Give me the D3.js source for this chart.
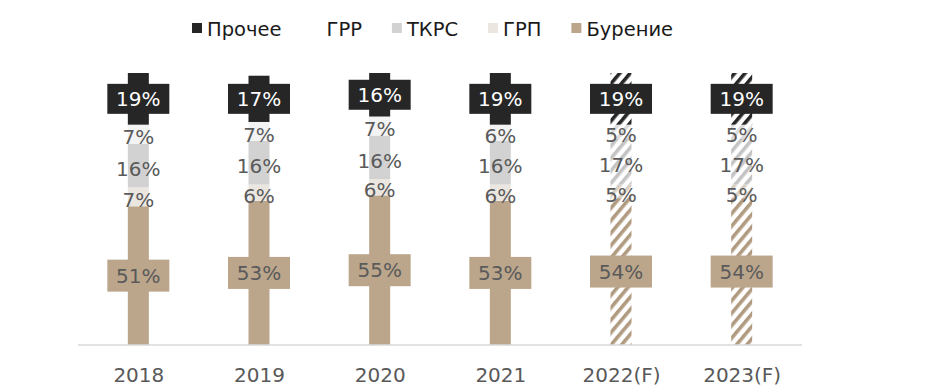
<!DOCTYPE html>
<html>
<head>
<meta charset="utf-8">
<script src="https://cdn.jsdelivr.net/npm/d3@7/dist/d3.min.js"></script>
<style>
  html, body { margin: 0; padding: 0; background: #fff; }
  svg { display: block; font-family: "DejaVu Sans", Verdana, sans-serif; }
</style>
</head>
<body>
<svg id="chart" width="938" height="392"></svg>
<script>
// data, bottom of the stack first
const years = ['2018', '2019', '2020', '2021', '2022(F)', '2023(F)'];
const forecast = ['2022(F)', '2023(F)'];
const seriesNames = ['Бурение', 'ГРП', 'ТКРС', 'ГРР', 'Прочее'];
const drilling = [51, 53, 55, 53, 54, 54];
const fracturing = [7, 6, 6, 6, 5, 5];
const workover = [16, 16, 16, 16, 17, 17];
const exploration = [7, 7, 7, 6, 5, 5];
const other = [19, 17, 16, 19, 19, 19];
const legendOrder = ['Прочее', 'ГРР', 'ТКРС', 'ГРП', 'Бурение'];

const values = [drilling, fracturing, workover, exploration, other];
const colors = {
  'Бурение': '#bba68c',
  'ГРП': '#ebe7e0',
  'ТКРС': '#d2d2d2',
  'ГРР': '#f3f3f3',
  'Прочее': '#262626',
};
const stripeColors = {
  'Бурение': '#b09a80',
  'ГРП': '#d8cfc2',
  'ТКРС': '#c4c4c4',
  'ГРР': '#dcdcdc',
  'Прочее': '#262626',
};
const boxed = new Set(['Бурение', 'Прочее']);

const rows = years.map((year, i) => {
  const row = { year };
  seriesNames.forEach((name, k) => { row[name] = values[k][i]; });
  return row;
});

const svg = d3.select('#chart');
const defs = svg.append('defs');

for (const name of seriesNames) {
  const pattern = defs.append('pattern')
    .attr('id', `hatch-${seriesNames.indexOf(name)}`)
    .attr('patternUnits', 'userSpaceOnUse')
    .attr('width', 8)
    .attr('height', 8)
    .attr('patternTransform', 'rotate(40)');
  pattern.append('rect').attr('width', 8).attr('height', 8).attr('fill', '#fff');
  pattern.append('rect').attr('width', 3.6).attr('height', 8).attr('fill', stripeColors[name]);
}

const x = d3.scalePoint().domain(years).range([78, 802]).padding(0.5);
const y = d3.scaleLinear().domain([0, 100]).range([345, 73]);
const barWidth = 21;

const stack = d3.stack().keys(seriesNames);
const layers = stack(rows);

const barLayer = svg.append('g');
layers.forEach((layer, k) => {
  const name = seriesNames[k];
  barLayer.append('g')
    .selectAll('rect')
    .data(layer)
    .join('rect')
    .attr('x', (d) => x(d.data.year) - barWidth / 2)
    .attr('width', barWidth)
    .attr('y', (d) => y(d[1]))
    .attr('height', (d) => y(d[0]) - y(d[1]))
    .attr('fill', (d) => (forecast.includes(d.data.year) ? `url(#hatch-${k})` : colors[name]));
});

// axis
const axis = svg.append('g')
  .attr('transform', `translate(0,${y(0)})`)
  .call(d3.axisBottom(x).tickSize(0).tickPadding(23));
axis.select('.domain').attr('stroke', '#d9d9d9').attr('stroke-width', 1.5)
  .attr('d', 'M78,0H802');
axis.selectAll('text')
  .attr('font-size', 20)
  .attr('fill', '#595959')
  .attr('font-family', '"DejaVu Sans", Verdana, sans-serif');

// data labels
const labelLayer = svg.append('g');
layers.forEach((layer, k) => {
  const name = seriesNames[k];
  const shift = boxed.has(name) ? 0 : 3;
  const g = labelLayer.append('g');
  const items = g.selectAll('g')
    .data(layer)
    .join('g')
    .attr('transform', (d) => `translate(${x(d.data.year)},${(y(d[0]) + y(d[1])) / 2 + shift})`);
  if (boxed.has(name)) {
    items.append('rect')
      .attr('x', -31)
      .attr('y', name === 'Прочее' ? -15 : -16)
      .attr('width', 62)
      .attr('height', name === 'Прочее' ? 30 : 32)
      .attr('fill', colors[name]);
  }
  items.append('text')
    .attr('text-anchor', 'middle')
    .attr('dy', '0.36em')
    .attr('font-size', 20)
    .attr('fill', name === 'Прочее' ? '#ffffff' : '#5a5a5a')
    .text((d) => `${d.data[name]}%`);
});

// legend
const legend = svg.append('g').attr('transform', 'translate(192,0)');
let cursor = 0;
for (const name of legendOrder) {
  const item = legend.append('g').attr('transform', `translate(${cursor},0)`);
  item.append('rect')
    .attr('x', 0).attr('y', 23).attr('width', 10).attr('height', 10)
    .attr('fill', colors[name] === '#f3f3f3' ? '#ffffff' : colors[name]);
  const text = item.append('text')
    .attr('x', 15).attr('y', 35.5)
    .attr('font-size', 19.5)
    .attr('fill', '#1a1a1a')
    .text(name);
  cursor += 15 + text.node().getComputedTextLength() + 30;
}
</script>
</body>
</html>
